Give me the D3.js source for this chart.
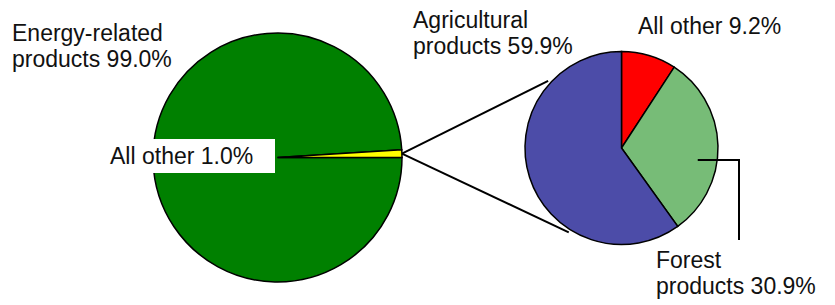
<!DOCTYPE html>
<html lang="en">
<head>
    <meta charset="UTF-8">
    <title>Energy-related products pie of pie</title>
    <script src="https://d3js.org/d3.v7.min.js"></script>
    <style>
        body { margin: 0; background: #fff; }
        text { font-family: "Liberation Sans", Arial, sans-serif; font-size: 23px; fill: #111; }
        .slice { stroke: #000; stroke-width: 1.5; }
        .leader { stroke: #000; stroke-width: 2; fill: none; }
    </style>
</head>
<body>
<svg id="chart" width="835" height="305"></svg>
<script>
    // main pie
    const mainLabels = ["Energy-related products", "All other"];
    const mainValues = [99.0, 1.0];
    const mainColors = ["#008000", "#ffff00"];

    // breakdown of "All other"
    const subLabels = ["All other", "Forest products", "Agricultural products"];
    const subValues = [9.2, 30.9, 59.9];
    const subColors = ["#ff0000", "url(#greenDots)", "url(#blueDots)"];

    const svg = d3.select("#chart");
    const defs = svg.append("defs");

    function dots(id, c1, c2) {
        let p = defs.append("pattern").attr("id", id)
            .attr("width", 2).attr("height", 2)
            .attr("patternUnits", "userSpaceOnUse");
        p.append("rect").attr("width", 2).attr("height", 2).attr("fill", c1);
        p.append("rect").attr("width", 1).attr("height", 1).attr("fill", c2);
        p.append("rect").attr("x", 1).attr("y", 1).attr("width", 1).attr("height", 1).attr("fill", c2);
    }
    dots("greenDots", "#8fd08f", "#5fa85f");
    dots("blueDots", "#5a5ab8", "#3f3f98");

    const big = {cx: 277.5, cy: 157.5, r: 124.5};
    const small = {cx: 621.5, cy: 148, r: 96.5};

    const mainPie = d3.pie().sort(null)
        .startAngle(Math.PI / 2).endAngle(Math.PI / 2 + 2 * Math.PI);
    const subPie = d3.pie().sort(null);

    const bigArc = d3.arc().innerRadius(0).outerRadius(big.r);
    const smallArc = d3.arc().innerRadius(0).outerRadius(small.r);

    let mainArcs = mainPie(mainValues);
    let subArcs = subPie(subValues);

    let g1 = svg.append("g").attr("transform", `translate(${big.cx}, ${big.cy})`);
    g1.selectAll("path")
        .data(mainArcs)
        .enter().append("path")
        .attr("class", "slice")
        .attr("d", bigArc)
        .attr("fill", (d, i) => mainColors[i]);

    let g2 = svg.append("g").attr("transform", `translate(${small.cx}, ${small.cy})`);
    g2.selectAll("path")
        .data(subArcs)
        .enter().append("path")
        .attr("class", "slice")
        .attr("d", smallArc)
        .attr("fill", (d, i) => subColors[i]);

    // connector lines from the small slice to the second pie
    let other = mainArcs[1];
    let midA = (other.startAngle + other.endAngle) / 2;
    let apex = [big.cx + big.r * Math.sin(midA), big.cy - big.r * Math.cos(midA)];
    let ends = [-47.5, 212].map(a => {
        let rad = a * Math.PI / 180;
        return [small.cx + (small.r + 3) * Math.sin(rad), small.cy - (small.r + 3) * Math.cos(rad)];
    });
    ends.forEach(e => {
        svg.append("line").attr("class", "leader")
            .attr("x1", apex[0]).attr("y1", apex[1])
            .attr("x2", e[0]).attr("y2", e[1]);
    });

    // forest leader
    let fx = small.cx + small.r * 0.79;
    svg.append("path").attr("class", "leader")
        .attr("d", d3.line()([[fx, 160], [739, 160], [739, 240]]));

    // labels
    function label(lines, x, y) {
        let t = svg.append("text").attr("x", x).attr("y", y);
        lines.forEach((s, i) => {
            t.append("tspan").attr("x", x).attr("dy", i ? 26 : 0).text(s);
        });
        return t;
    }

    label(["Energy-related", "products " + mainValues[0].toFixed(1) + "%"], 12, 41);

    svg.append("rect").attr("x", 108).attr("y", 139)
        .attr("width", 167).attr("height", 34).attr("fill", "#fff");
    label([mainLabels[1] + " " + mainValues[1].toFixed(1) + "%"], 110, 164);

    label(["Agricultural", "products " + subValues[2].toFixed(1) + "%"], 413, 28);
    label([subLabels[0] + " " + subValues[0].toFixed(1) + "%"], 638, 34);
    label(["Forest", "products " + subValues[1].toFixed(1) + "%"], 656, 268);
</script>
</body>
</html>
